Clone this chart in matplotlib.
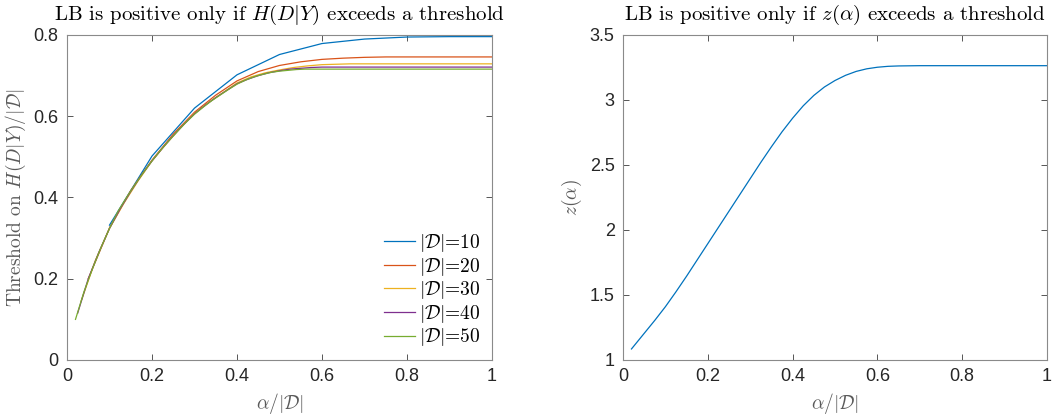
import numpy as np
import matplotlib
matplotlib.use("Agg")
import matplotlib.pyplot as plt
from matplotlib.ticker import FuncFormatter

plt.rcParams['mathtext.fontset'] = 'cm'
plt.rcParams['axes.formatter.use_mathtext'] = True

# ---------------- data ----------------
sizes = [10, 20, 30, 40, 50]
legend_labels = [r'$|\mathcal{D}|$=10', r'$|\mathcal{D}|$=20', r'$|\mathcal{D}|$=30',
                 r'$|\mathcal{D}|$=40', r'$|\mathcal{D}|$=50']

thr_10 = [0.332, 0.502, 0.620, 0.702, 0.752, 0.779, 0.790, 0.795, 0.796, 0.796]
thr_20 = [0.200, 0.325, 0.417, 0.492, 0.556, 0.610, 0.652, 0.687, 0.710, 0.725,
          0.734, 0.740, 0.743, 0.745, 0.746, 0.746, 0.746, 0.746, 0.746, 0.746]
thr_30 = [0.145, 0.245, 0.324, 0.385, 0.440, 0.490, 0.532, 0.571, 0.607, 0.634,
          0.658, 0.682, 0.697, 0.707, 0.714, 0.720, 0.724, 0.727, 0.728, 0.729,
          0.729, 0.729, 0.729, 0.729, 0.729, 0.729, 0.729, 0.729, 0.729, 0.729]
thr_40 = [0.115, 0.200, 0.265, 0.324, 0.372, 0.415, 0.455, 0.490, 0.522, 0.552,
          0.580, 0.606, 0.627, 0.646, 0.663, 0.680, 0.691, 0.700, 0.707, 0.712,
          0.716, 0.718, 0.720, 0.721, 0.721, 0.721, 0.721, 0.721, 0.721, 0.721,
          0.721, 0.721, 0.721, 0.721, 0.721, 0.721, 0.721, 0.721, 0.721, 0.721]
thr_50 = [0.100, 0.168, 0.225, 0.277, 0.324, 0.366, 0.400, 0.432, 0.462, 0.490,
          0.516, 0.540, 0.563, 0.585, 0.605, 0.622, 0.638, 0.652, 0.666, 0.679,
          0.689, 0.697, 0.703, 0.708, 0.711, 0.713, 0.715, 0.716, 0.716, 0.716,
          0.716, 0.716, 0.716, 0.716, 0.716, 0.716, 0.716, 0.716, 0.716, 0.716,
          0.716, 0.716, 0.716, 0.716, 0.716, 0.716, 0.716, 0.716, 0.716, 0.716]
thresholds = [thr_10, thr_20, thr_30, thr_40, thr_50]

z_x = [0.02, 0.05, 0.075, 0.10, 0.125, 0.15, 0.175, 0.20, 0.225, 0.25, 0.275,
       0.30, 0.325, 0.35, 0.375, 0.40, 0.425, 0.45, 0.475, 0.50, 0.525, 0.55,
       0.575, 0.60, 0.625, 0.65, 0.675, 0.70, 0.80, 0.90, 1.00]
z_y = [1.085, 1.205, 1.305, 1.41, 1.525, 1.645, 1.77, 1.895, 2.02, 2.145, 2.27,
       2.395, 2.52, 2.64, 2.755, 2.86, 2.955, 3.035, 3.10, 3.15, 3.19, 3.22,
       3.24, 3.252, 3.259, 3.262, 3.263, 3.264, 3.264, 3.264, 3.264]

left_xticks = [0, 0.2, 0.4, 0.6, 0.8, 1]
left_yticks = [0, 0.2, 0.4, 0.6, 0.8]
right_yticks = [1, 1.5, 2, 2.5, 3, 3.5]

colors = ['#0072BD', '#D95319', '#EDB120', '#7E2F8E', '#77AC30']

# ---------------- figure ----------------
W, H = 1056, 420
fig = plt.figure(figsize=(W / 100, H / 100), dpi=100)
ax1 = fig.add_axes([67 / W, 1 - 360 / H, (492 - 67) / W, (360 - 35) / H])
ax2 = fig.add_axes([623 / W, 1 - 360 / H, (1047 - 623) / W, (360 - 35) / H])

label_color = '#5a5a5a'
fmt = FuncFormatter(lambda v, p: '%g' % v)


def style(ax):
    for s in ax.spines.values():
        s.set_color('#8a8a8a')
        s.set_linewidth(0.8)
    ax.tick_params(direction='in', length=4, width=0.7, color='#555555',
                   top=True, right=True, labelcolor='#262626', pad=6)
    ax.xaxis.set_major_formatter(fmt)
    ax.yaxis.set_major_formatter(fmt)
    for lab in ax.get_xticklabels() + ax.get_yticklabels():
        lab.set_fontfamily('Liberation Sans')
        lab.set_fontsize(13)


for n, vals, c, lab in zip(sizes, thresholds, colors, legend_labels):
    x = np.arange(1, n + 1) / n
    ax1.plot(x, vals, color=c, lw=0.9, label=lab)

ax1.set_xlim(0, 1)
ax1.set_ylim(0, 0.8)
ax1.set_xticks(left_xticks)
ax1.set_yticks(left_yticks)
style(ax1)
ax1.set_title(r'LB is positive only if $H(D|Y)$ exceeds a threshold',
              fontfamily='cmr10', fontsize=15, pad=11)
ax1.set_xlabel(r'$\alpha/|\mathcal{D}|$', fontsize=14, color=label_color, labelpad=4)
ax1.set_ylabel(r'Threshold on $H(D|Y)/|\mathcal{D}|$', fontfamily='cmr10',
               fontsize=14, color=label_color, labelpad=4)
leg = ax1.legend(loc='lower right', frameon=False,
                 prop=dict(family='cmr10', size=14),
                 handlelength=1.6, handletextpad=0.2, labelspacing=0.08,
                 borderaxespad=0.2)

ax2.plot(z_x, z_y, color='#0072BD', lw=0.9)
ax2.set_xlim(0, 1)
ax2.set_ylim(1, 3.5)
ax2.set_xticks(left_xticks)
ax2.set_yticks(right_yticks)
style(ax2)
ax2.set_title(r'LB is positive only if $z(\alpha)$ exceeds a threshold',
              fontfamily='cmr10', fontsize=15, pad=11)
ax2.set_xlabel(r'$\alpha/|\mathcal{D}|$', fontsize=14, color=label_color, labelpad=4)
ax2.set_ylabel(r'$z(\alpha)$', fontsize=14, color=label_color, labelpad=4)

fig.savefig('out.png', dpi=100, facecolor='white')
